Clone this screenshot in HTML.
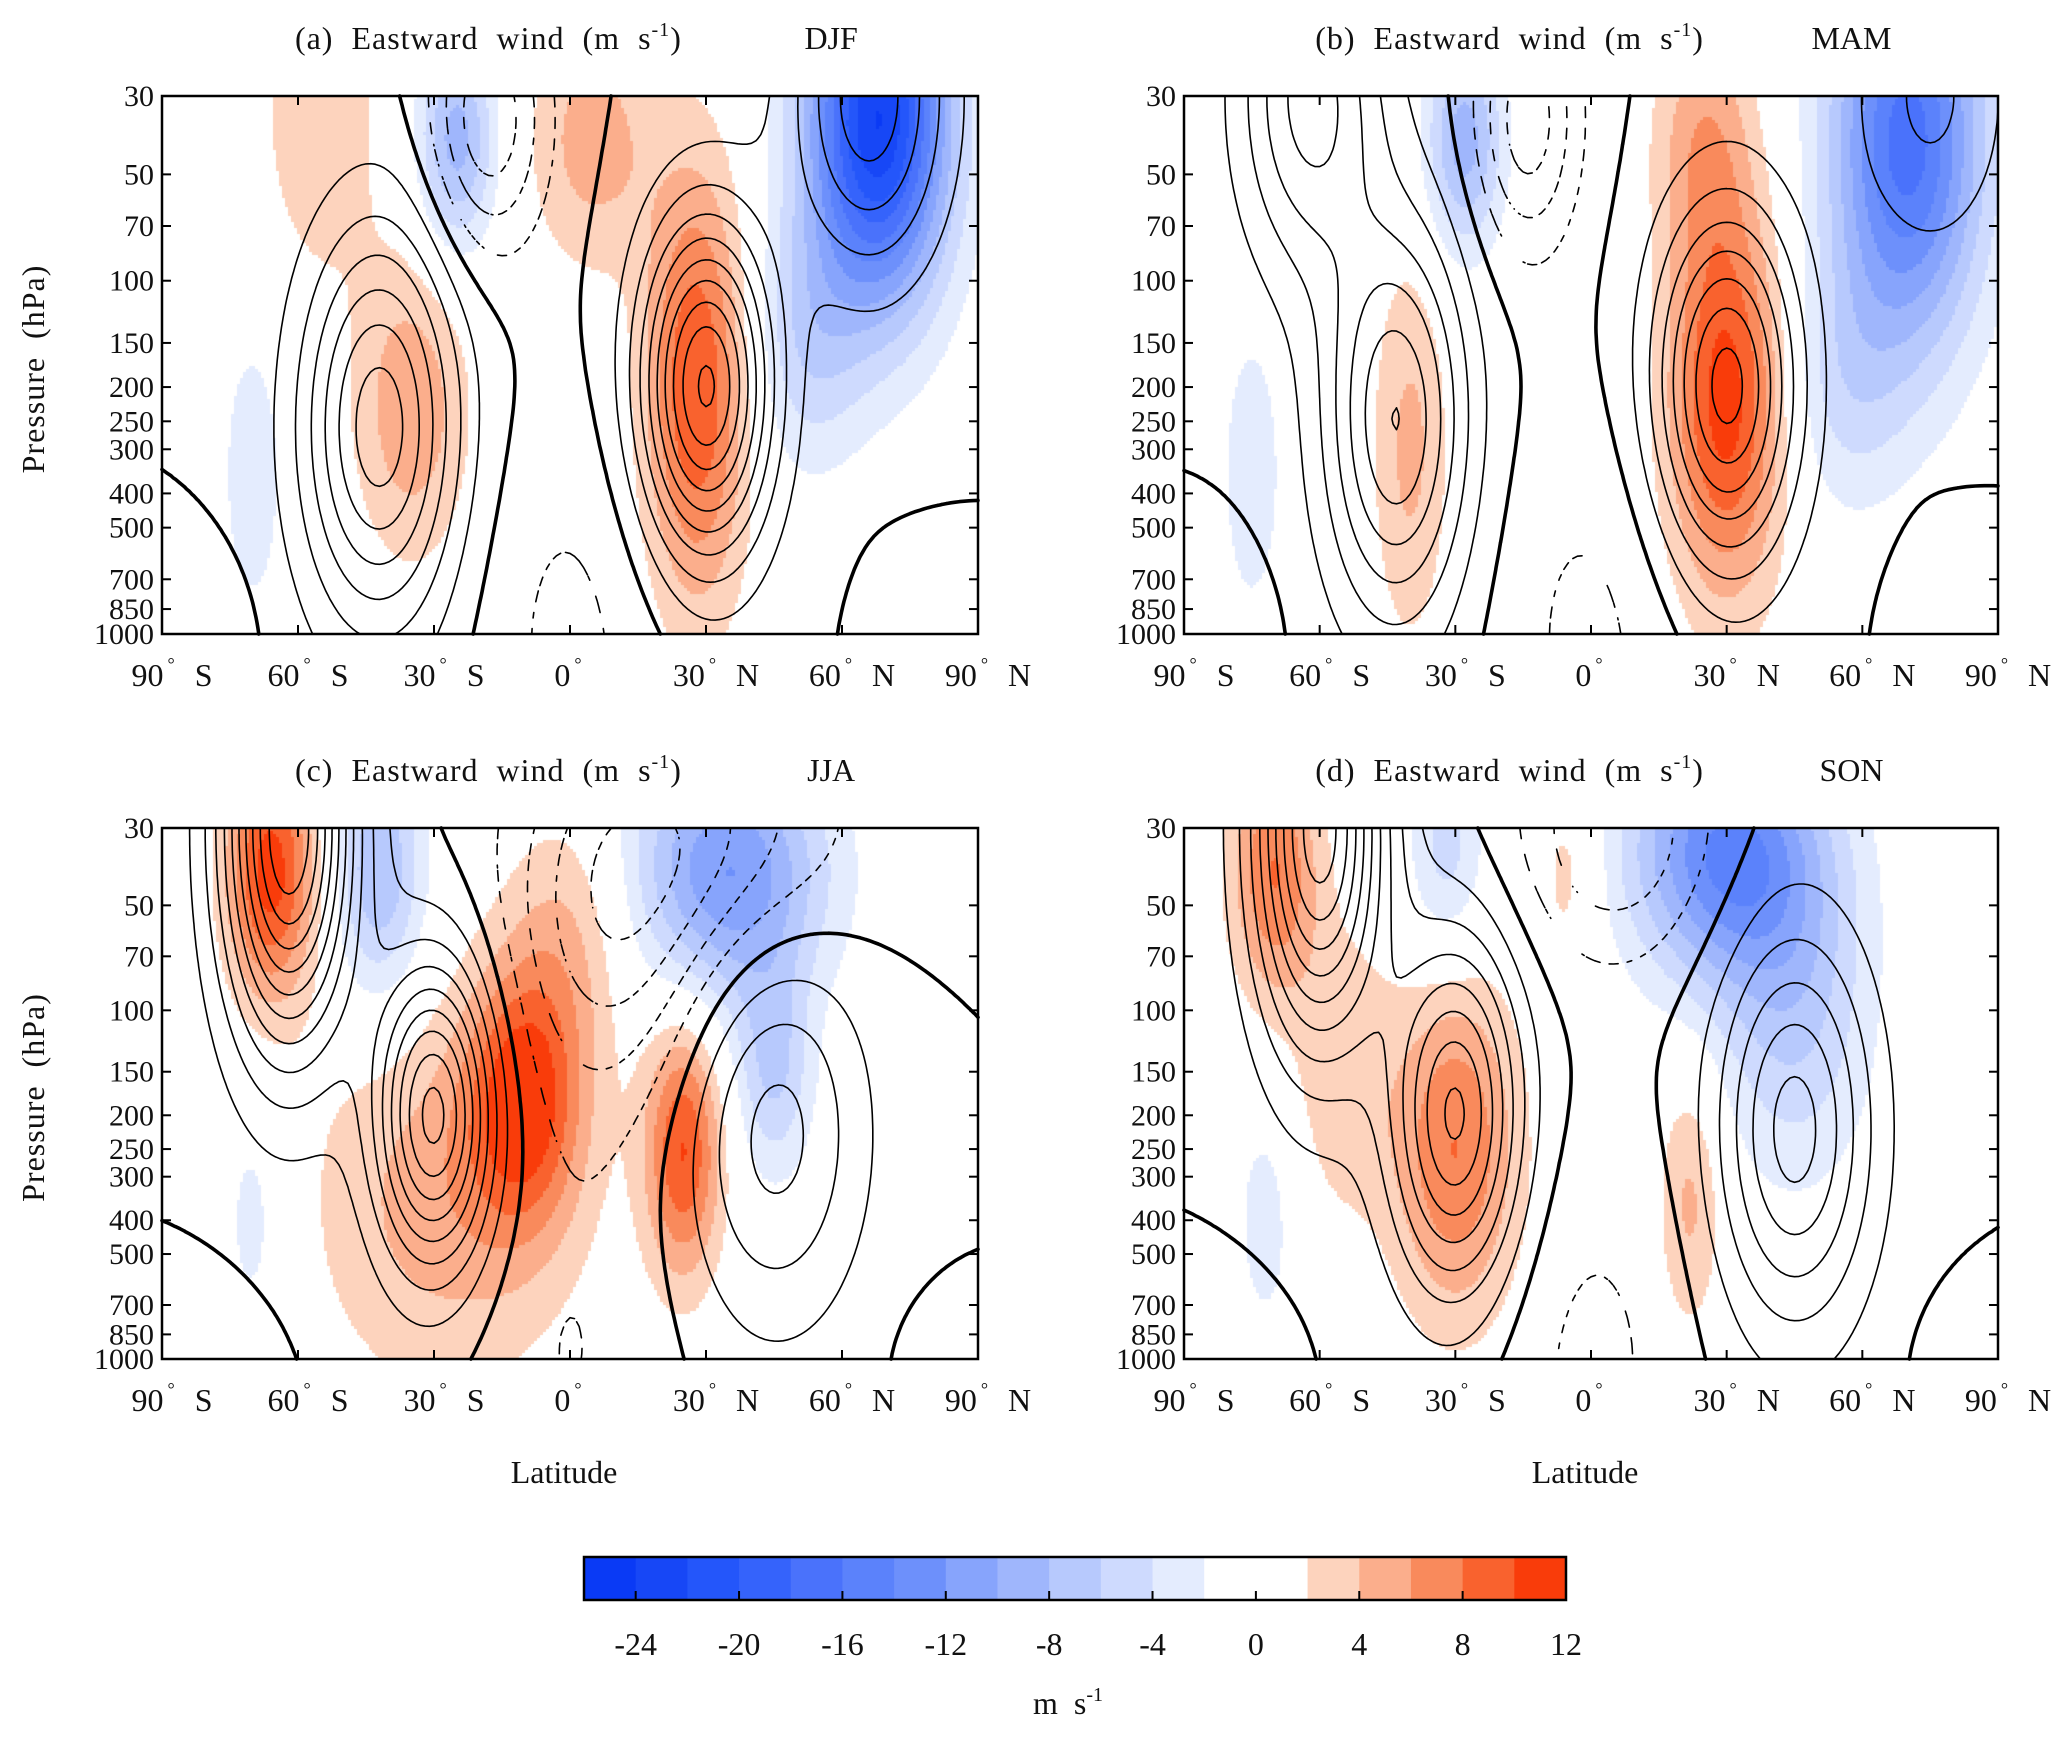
<!DOCTYPE html>
<html><head><meta charset="utf-8">
<style>
html,body{margin:0;padding:0;background:#fff;}
#wrap{position:relative;width:2067px;height:1738px;overflow:hidden;}
canvas{position:absolute;}
svg{position:absolute;left:0;top:0;}
text{font-family:"Liberation Serif",serif;fill:#111;}
</style></head>
<body>
<div id="wrap">
<canvas id="cv-djf"></canvas>
<canvas id="cv-mam"></canvas>
<canvas id="cv-jja"></canvas>
<canvas id="cv-son"></canvas>
<svg id="svg" width="2067" height="1738"></svg>
</div>
<script>
// ---- colour levels (m/s) ----
const levelEdges=[-26,-24,-22,-20,-18,-16,-14,-12,-10,-8,-6,-4,-2,2,4,6,8,10,12];
const levelColors=["#0a3af5","#1747f6","#2456fa","#3563fb","#4a72fb","#5b82fb","#6d90fb","#87a4fc","#9fb6fc","#b7c9fd","#cedafe","#e4ecfe","#ffffff","#fdd3bd","#fbae8c","#f98a5c","#f9622e","#f93c0a"];
const cbarTicks=[-24,-20,-16,-12,-8,-4,0,4,8,12];
const presTicks=[30,50,70,100,150,200,250,300,400,500,700,850,1000];
const latTicks=[-90,-60,-30,0,30,60,90];
const latTickLabels=["90","60","30","0","30","60","90"];
const latTickHemi=["S","S","S","","N","N","N"];
const contourLevels=[-20,-15,-10,-5,0,5,10,15,20,25,30,35,40,45,50];

// ---- DJF ----
const djfWindLat=[-42,30,66,-18,0,-80,80];
const djfWindPres=[260,200,30,35,1000,1000,1000];
const djfWindAmp=[33,46,23,-19,-6,-2.5,-2];
const djfWindWidth=[12,10,12,9,16,8,8];
const djfWindDepth=[0.9,0.75,0.8,0.6,1.0,0.35,0.3];
const djfShadeLat=[28,-35,5,-55,68,-25,-70,52];
const djfShadePres=[200,230,40,35,35,40,350,150];
const djfShadeAmp=[10,5.5,5,3.5,-24,-9,-3.5,-5];
const djfShadeWidth=[8,9,10,10,11,6,5,9];
const djfShadeDepth=[1.0,0.7,0.6,0.8,0.85,0.5,0.7,0.6];
// ---- MAM ----
const mamWindLat=[-43,-62,30,75,-14,0,-80,82];
const mamWindPres=[250,30,200,30,35,1000,1000,1000];
const mamWindAmp=[30,22,37,11,-18,-6,-2.5,-2];
const mamWindWidth=[11,11,11,12,8,16,8,8];
const mamWindDepth=[0.9,0.8,0.8,0.7,0.6,1.0,0.35,0.3];
const mamShadeLat=[30,25,-40,70,-28,-75,56];
const mamShadePres=[220,40,300,40,40,350,200];
const mamShadeAmp=[11,5,4.5,-17,-9,-3.5,-4];
const mamShadeWidth=[9,8,6,12,6,5,10];
const mamShadeDepth=[0.9,0.6,0.9,0.95,0.5,0.7,0.6];
// ---- JJA ----
const jjaWindLat=[-30,-62,45,8,30,0,-80,82];
const jjaWindPres=[200,30,220,60,30,1000,1000,1000];
const jjaWindAmp=[42,55,17,-15,-14,-5,-2.5,-2];
const jjaWindWidth=[9,10,14,16,22,16,8,8];
const jjaWindDepth=[0.7,1.0,0.9,0.9,0.7,1.0,0.35,0.3];
const jjaShadeLat=[-66,-28,-10,25,0,-42,35,45,-70];
const jjaShadePres=[40,350,180,250,60,40,40,150,400];
const jjaShadeAmp=[11,5,10,10,4,-8,-12,-6,-3];
const jjaShadeWidth=[7,20,9,6,10,7,15,6,5];
const jjaShadeDepth=[0.6,0.9,0.6,0.6,0.6,0.6,0.6,0.5,0.6];
// ---- SON ----
const sonWindLat=[-60,-30,45,5,0,-80,82];
const sonWindPres=[30,200,220,30,1000,1000,1000];
const sonWindAmp=[48,36,27,-15,-6,-2.5,-2];
const sonWindWidth=[10,10,12,15,16,8,8];
const sonWindDepth=[1.0,0.8,0.9,0.6,1.0,0.35,0.3];
const sonShadeLat=[-70,-30,-55,22,-5,30,45,-32,-72];
const sonShadePres=[40,250,150,350,40,35,100,35,400];
const sonShadeAmp=[8,8,3.5,4.5,3,-14,-6,-5,-3];
const sonShadeWidth=[7,10,8,5,5,15,12,6,5];
const sonShadeDepth=[0.6,0.8,0.7,0.6,0.5,0.6,0.8,0.5,0.6];

const panels=[
 {id:"djf",tag:"(a)",season:"DJF",L:162,T:96,W:816,H:538,wind:[djfWindLat,djfWindPres,djfWindAmp,djfWindWidth,djfWindDepth],shade:[djfShadeLat,djfShadePres,djfShadeAmp,djfShadeWidth,djfShadeDepth]},
 {id:"mam",tag:"(b)",season:"MAM",L:1184,T:96,W:814,H:538,wind:[mamWindLat,mamWindPres,mamWindAmp,mamWindWidth,mamWindDepth],shade:[mamShadeLat,mamShadePres,mamShadeAmp,mamShadeWidth,mamShadeDepth]},
 {id:"jja",tag:"(c)",season:"JJA",L:162,T:828,W:816,H:531,wind:[jjaWindLat,jjaWindPres,jjaWindAmp,jjaWindWidth,jjaWindDepth],shade:[jjaShadeLat,jjaShadePres,jjaShadeAmp,jjaShadeWidth,jjaShadeDepth]},
 {id:"son",tag:"(d)",season:"SON",L:1184,T:828,W:814,H:531,wind:[sonWindLat,sonWindPres,sonWindAmp,sonWindWidth,sonWindDepth],shade:[sonShadeLat,sonShadePres,sonShadeAmp,sonShadeWidth,sonShadeDepth]}
];
const ZMAX=Math.log(1000/30);
function zOf(p){return Math.log(1000/p);}
function field(arr,lat,z){
  const [la,pr,am,wl,wz]=arr;let s=0;
  for(let k=0;k<la.length;k++){
    const dx=(lat-la[k])/wl[k], dz=(z-zOf(pr[k]))/wz[k];
    s+=am[k]*Math.exp(-0.5*(dx*dx+dz*dz));
  }
  return s;
}
function colorFor(v){
  if(v<levelEdges[0]) return levelColors[0];
  for(let i=0;i<levelColors.length;i++){ if(v<levelEdges[i+1]) return levelColors[i]; }
  return levelColors[levelColors.length-1];
}
const NS="http://www.w3.org/2000/svg";
const svg=document.getElementById('svg');
function mk(tag,attrs,parent){const e=document.createElementNS(NS,tag);for(const k in attrs)e.setAttribute(k,attrs[k]);(parent||svg).appendChild(e);return e;}

panels.forEach(P=>{
  const xOf=lat=>P.L+(lat+90)/180*P.W;
  const yOfZ=z=>P.T+P.H-z/ZMAX*P.H;
  const yOf=p=>yOfZ(zOf(p));
  const cv=document.getElementById('cv-'+P.id);
  cv.width=P.W;cv.height=P.H;cv.style.left=P.L+'px';cv.style.top=P.T+'px';
  const ctx=cv.getContext('2d');const st=3;
  for(let py=0;py<P.H;py+=st){for(let px=0;px<P.W;px+=st){
    const lat=-90+(px+st/2)/P.W*180, z=(P.H-py-st/2)/P.H*ZMAX;
    ctx.fillStyle=colorFor(field(P.shade,lat,z));ctx.fillRect(px,py,st,st);
  }}
  const g=mk('g',{});
  
  
  const nx=181,nz=101,vals=[];
  for(let j=0;j<nz;j++){const row=[];const z=j/(nz-1)*ZMAX;for(let i=0;i<nx;i++){row.push(field(P.wind,-90+i,z));}vals.push(row);}
  contourLevels.forEach(lv=>{
    let d="";
    const X=i=>xOf(-90+i), Y=j=>yOfZ(j/(nz-1)*ZMAX);
    for(let j=0;j<nz-1;j++)for(let i=0;i<nx-1;i++){
      if(lv<0 && Math.floor((i+j)/2)%2===1) continue; // dashed look
      const a=vals[j][i],b=vals[j][i+1],c=vals[j+1][i+1],e=vals[j+1][i];
      const pts=[];
      const edge=(v1,v2,x1,y1,x2,y2)=>{const t=(lv-v1)/(v2-v1);pts.push([x1+(x2-x1)*t,y1+(y2-y1)*t]);};
      if((a<lv)!==(b<lv))edge(a,b,X(i),Y(j),X(i+1),Y(j));
      if((b<lv)!==(c<lv))edge(b,c,X(i+1),Y(j),X(i+1),Y(j+1));
      if((c<lv)!==(e<lv))edge(c,e,X(i+1),Y(j+1),X(i),Y(j+1));
      if((e<lv)!==(a<lv))edge(e,a,X(i),Y(j+1),X(i),Y(j));
      for(let k=0;k+1<pts.length;k+=2)d+=`M${pts[k][0].toFixed(1)} ${pts[k][1].toFixed(1)}L${pts[k+1][0].toFixed(1)} ${pts[k+1][1].toFixed(1)}`;
    }
    if(d){
      const pth=mk('path',{d:d,fill:'none',stroke:'#000','stroke-width':lv===0?3.6:1.6,'stroke-linecap':'round'},g);
      
      
    }
  });
  const fr=mk('rect',{x:P.L,y:P.T,width:P.W,height:P.H,fill:'none',stroke:'#000','stroke-width':2.5},g);
  
  
  presTicks.forEach(p=>{
    const y=yOf(p);
    mk('line',{x1:P.L,x2:P.L+9,y1:y,y2:y,stroke:'#000','stroke-width':2},g);
    mk('line',{x1:P.L+P.W-9,x2:P.L+P.W,y1:y,y2:y,stroke:'#000','stroke-width':2},g);
    const t=mk('text',{x:P.L-8,y:y+10,'text-anchor':'end','font-size':30},g);
    t.textContent=p;
    
    
  });
  latTicks.forEach((lat,k)=>{
    const x=xOf(lat);
    mk('line',{x1:x,x2:x,y1:P.T+P.H,y2:P.T+P.H-9,stroke:'#000','stroke-width':2},g);
    mk('line',{x1:x,x2:x,y1:P.T,y2:P.T+9,stroke:'#000','stroke-width':2},g);
    const t=mk('text',{x:x+(latTickHemi[k]?10:-2),y:P.T+P.H+52,'text-anchor':'middle','font-size':32},g);
    
    
    const s1=mk('tspan',{},t);s1.textContent=latTickLabels[k];
    const s2=mk('tspan',{'font-size':18,dy:-16,dx:4},t);s2.textContent='°';
    if(latTickHemi[k]){const s3=mk('tspan',{dy:16,dx:20},t);s3.textContent=latTickHemi[k];}
  });
  const cx=P.L+P.W*0.4;
  const tt=mk('text',{x:cx,y:P.T-47,'text-anchor':'middle','font-size':32,'letter-spacing':1},g);
  
  
  const a1=mk('tspan',{},tt);a1.textContent=P.tag+'\u00a0\u00a0Eastward\u00a0\u00a0wind\u00a0\u00a0(m\u00a0\u00a0s';
  const a2=mk('tspan',{'font-size':20,dy:-13},tt);a2.textContent='-1';
  const a3=mk('tspan',{dy:13},tt);a3.textContent=')';
  const ss=mk('text',{x:P.L+P.W*0.82,y:P.T-47,'text-anchor':'middle','font-size':32},g);
  ss.textContent=P.season;
  
  
  if(P.L<500){
    const yt=mk('text',{x:0,y:0,'text-anchor':'middle','font-size':32,'letter-spacing':1,transform:`translate(44 ${P.T+P.H/2+4}) rotate(-90)`},g);
    yt.textContent='Pressure\u00a0\u00a0(hPa)';
    
    
  }
  if(P.T>500){
    const xt=mk('text',{x:P.L+P.W/2-6,y:1483,'text-anchor':'middle','font-size':32},g);
    xt.textContent='Latitude';
    
    
  }
});

const CB={L:584,R:1566,T:1557,B:1600};
const cbx=v=>CB.L+(v-levelEdges[0])/(levelEdges[levelEdges.length-1]-levelEdges[0])*(CB.R-CB.L);
const cbg=mk('g',{});


levelColors.forEach((c,i)=>{
  const r=mk('rect',{x:cbx(levelEdges[i]),y:CB.T,width:cbx(levelEdges[i+1])-cbx(levelEdges[i])+0.5,height:CB.B-CB.T,fill:c},cbg);
  
  
});
mk('rect',{x:CB.L,y:CB.T,width:CB.R-CB.L,height:CB.B-CB.T,fill:'none',stroke:'#000','stroke-width':2.5},cbg);
cbarTicks.forEach(v=>{
  const x=cbx(v);
  mk('line',{x1:x,x2:x,y1:CB.B,y2:CB.B-9,stroke:'#000','stroke-width':2},cbg);
  const t=mk('text',{x:x,y:1655,'text-anchor':'middle','font-size':32},cbg);
  t.textContent=v;
  
  
});
const ut=mk('text',{x:1068,y:1714,'text-anchor':'middle','font-size':32},cbg);


const u1=mk('tspan',{},ut);u1.textContent='m\u00a0\u00a0s';
const u2=mk('tspan',{'font-size':20,dy:-13},ut);u2.textContent='-1';
</script>
</body></html>
